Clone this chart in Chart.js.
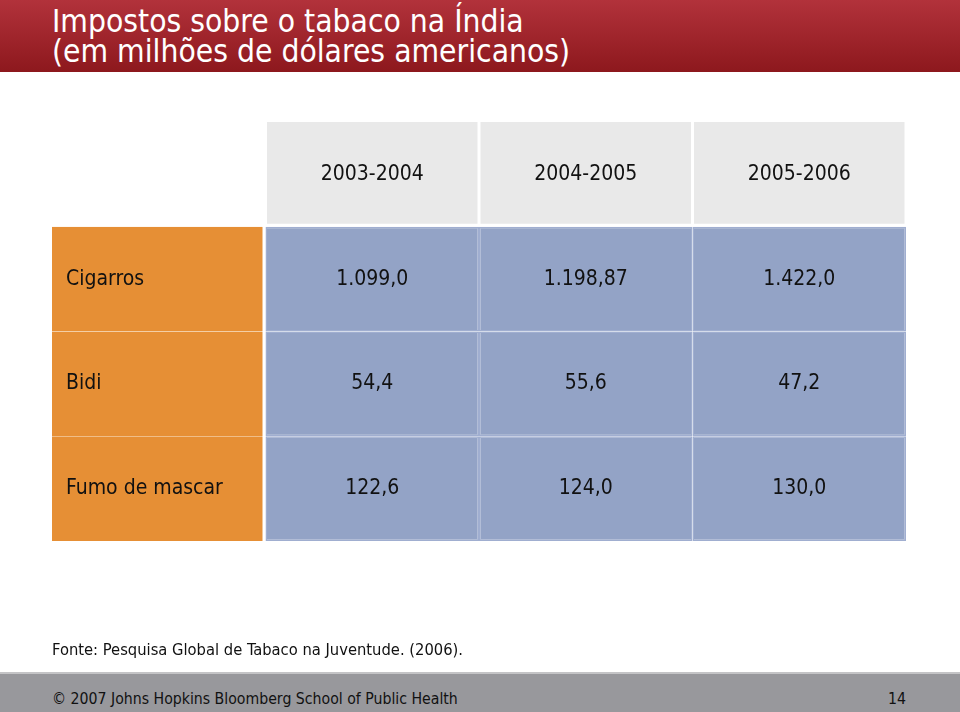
<!DOCTYPE html>
<html>
<head>
<meta charset="utf-8">
<script src="https://cdn.jsdelivr.net/npm/chart.js@4/dist/chart.umd.min.js"></script>
<style>
	html, body {
		margin: 0;
		padding: 0;
		width: 960px;
		height: 712px;
		background: #ffffff;
		overflow: hidden;
		font-family: "DejaVu Sans Condensed", "DejaVu Sans", sans-serif;
	}
	.banner {
		position: absolute;
		left: 0;
		top: 0;
		width: 960px;
		height: 72px;
		background: linear-gradient(to bottom, #b2323b, #8d181d);
	}
	.banner h1 {
		position: absolute;
		left: 52px;
		top: 6px;
		margin: 0;
		color: #ffffff;
		font-weight: normal;
		font-size: 31.5px;
		line-height: 30px;
	}
	.chart-box {
		position: absolute;
		left: 0;
		top: 0;
		width: 960px;
		height: 712px;
	}
	.source {
		position: absolute;
		left: 52px;
		top: 640px;
		font-size: 16.4px;
		color: #111111;
	}
	.footer {
		position: absolute;
		left: 0;
		top: 672px;
		width: 960px;
		height: 40px;
		background: #98989c;
		border-top: 2px solid #c4c4c6;
		box-sizing: border-box;
		font-size: 15.7px;
		color: #111111;
	}
	.footer .copy {
		position: absolute;
		left: 52px;
		top: 15px;
	}
	.footer .page {
		position: absolute;
		right: 54px;
		top: 15px;
	}
</style>
</head>
<body>
<div class="banner">
	<h1>Impostos sobre o tabaco na Índia<br>(em milhões de dólares americanos)</h1>
</div>
<div class="chart-box"><canvas id="table"></canvas></div>
<div class="source">Fonte: Pesquisa Global de Tabaco na Juventude. (2006).</div>
<div class="footer">
	<span class="copy">© 2007 Johns Hopkins Bloomberg School of Public Health</span>
	<span class="page">14</span>
</div>
<script>
const years = ["2003-2004", "2004-2005", "2005-2006"];
const products = ["Cigarros", "Bidi", "Fumo de mascar"];
const cigarros = [1099.0, 1198.87, 1422.0];
const bidi = [54.4, 55.6, 47.2];
const fumo = [122.6, 124.0, 130.0];

const rowValues = [cigarros, bidi, fumo];

const HEADER = "#e9e9e9";
const ORANGE = "#e68f35";
const BLUE = "#93a3c6";
const BLUE_LINE = "#a0aed0";

// 1099 -> "1.099,0", 1198.87 -> "1.198,87"
const formatValue = (v) => {
	let s = v.toFixed(2);
	if (s.endsWith("0")) s = s.slice(0, -1);
	let [int, dec] = s.split(".");
	int = int.replace(/\B(?=(\d{3})+(?!\d))/g, ".");
	return `${int},${dec}`;
};

// each row of the table is a dataset of floating bars [row, row + 1]
const headerRow = {
	data: [null, ...years.map(() => [0, 1])],
	texts: ["", ...years],
	backgroundColor: HEADER,
	borderColor: "#ffffff",
	borderWidth: { top: 0, left: 1.5, right: 1.5, bottom: 3 },
};

const bodyRows = products.map((name, r) => ({
	data: [[r + 1, r + 2], ...rowValues[r].map(() => [r + 1, r + 2])],
	texts: [name, ...rowValues[r].map(formatValue)],
	backgroundColor: [ORANGE, BLUE, BLUE, BLUE],
	borderColor: ["#ffffff", BLUE_LINE, BLUE_LINE, BLUE_LINE],
	borderWidth: [
		{ top: 0, bottom: 0, left: 0, right: 3 },
		1.5,
		1.5,
		1.5,
	],
}));

const cellText = {
	id: "cellText",
	afterDatasetsDraw(chart) {
		const { ctx } = chart;
		ctx.save();
		ctx.font = "21px 'DejaVu Sans Condensed', 'DejaVu Sans', sans-serif";
		ctx.fillStyle = "#111111";
		ctx.textBaseline = "middle";
		chart.data.datasets.forEach((ds, i) => {
			const meta = chart.getDatasetMeta(i);
			meta.data.forEach((bar, j) => {
				const text = ds.texts[j];
				if (!text) return;
				const cy = (bar.y + bar.base) / 2;
				if (i > 0 && j === 0) {
					ctx.textAlign = "left";
					ctx.fillText(text, bar.x - bar.width / 2 + 14, cy);
				} else {
					ctx.textAlign = "center";
					ctx.fillText(text, bar.x, cy);
				}
			});
		});
		ctx.restore();
	},
};

new Chart(document.getElementById("table").getContext("2d"), {
	type: "bar",
	data: {
		labels: ["", ...years],
		datasets: [headerRow, ...bodyRows],
	},
	options: {
		responsive: true,
		maintainAspectRatio: false,
		animation: false,
		layout: {
			padding: { left: 52, right: 54, top: 122, bottom: 171 },
		},
		datasets: {
			bar: {
				grouped: false,
				barPercentage: 1,
				categoryPercentage: 1,
				borderSkipped: false,
				inflateAmount: 0,
			},
		},
		scales: {
			x: { display: false },
			y: { display: false, min: 0, max: 4, reverse: true },
		},
		plugins: {
			legend: { display: false },
			tooltip: { enabled: false },
		},
	},
	plugins: [cellText],
});
</script>
</body>
</html>
